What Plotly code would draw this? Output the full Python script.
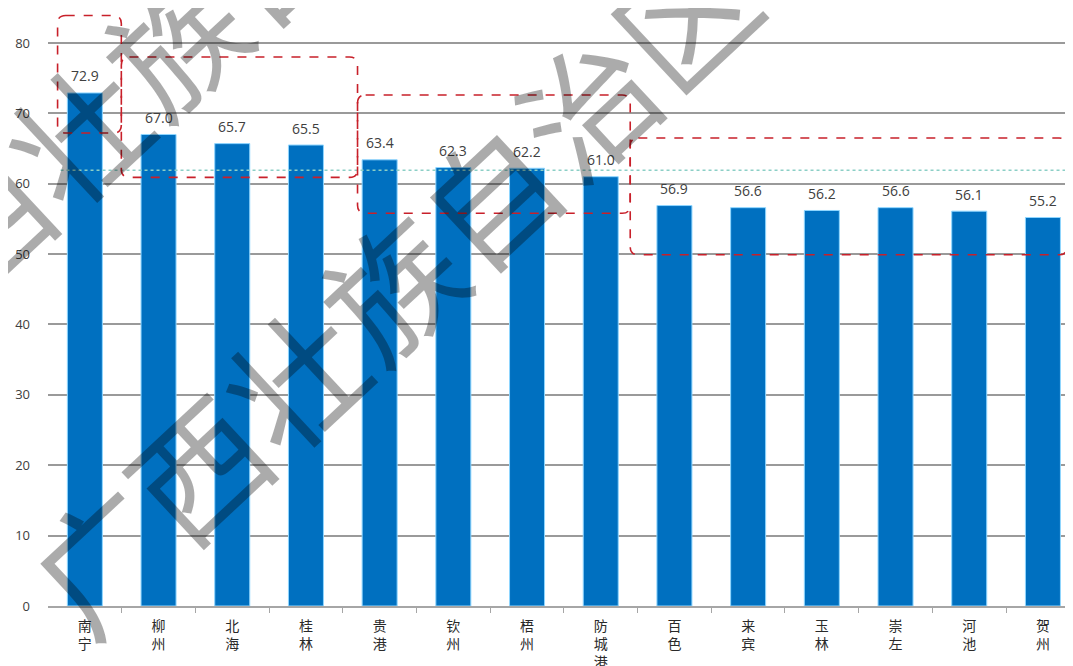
import plotly.graph_objects as go

# ---- data ----
cities = ["南宁", "柳州", "北海", "桂林", "贵港", "钦州", "梧州", "防城港",
          "百色", "来宾", "玉林", "崇左", "河池", "贺州"]
values = [72.9, 67.0, 65.7, 65.5, 63.4, 62.3, 62.2, 61.0,
          56.9, 56.6, 56.2, 56.6, 56.1, 55.2]
y_ticks = [0, 10, 20, 30, 40, 50, 60, 70, 80]
avg_line = 61.9
watermark = "广西壮族自治区"

n = len(cities)
xs = list(range(n))
tick_text = ["<br>".join(list(c)) for c in cities]

fig = go.Figure()
fig.add_trace(go.Bar(
    x=xs, y=values,
    marker=dict(color="#0070C0", line=dict(color="#8fd6ff", width=1)),
    hoverinfo="skip",
))

# data labels
for x, v in zip(xs, values):
    fig.add_annotation(x=x, y=v, text=f"{v:.1f}", showarrow=False,
                       yshift=17, yanchor="middle",
                       font=dict(family="Open Sans", size=14, color="#404040"))

# average dotted line
fig.add_shape(type="line", xref="x", yref="y", x0=-0.33, x1=13.3,
              y0=avg_line, y1=avg_line,
              line=dict(color="#8ccfc6", width=1.5, dash="dot"))


def rounded(x0, x1, y0, y1, rx=0.11, ry=1.15):
    return (f"M {x0+rx},{y1} L {x1-rx},{y1} Q {x1},{y1} {x1},{y1-ry} "
            f"L {x1},{y0+ry} Q {x1},{y0} {x1-rx},{y0} "
            f"L {x0+rx},{y0} Q {x0},{y0} {x0},{y0+ry} "
            f"L {x0},{y1-ry} Q {x0},{y1} {x0+rx},{y1} Z")


boxes = [(-0.37, 0.495, 67.2, 83.9),
         (0.495, 3.70, 60.9, 78.0),
         (3.70, 7.40, 55.8, 72.6),
         (7.40, 13.33, 49.9, 66.5)]
for b in boxes:
    fig.add_shape(type="path", xref="x", yref="y", path=rounded(*b),
                  line=dict(color="#c8202a", width=1.6, dash="dash"))

# watermark
for cx, cy in [(0.3330, 0.5390), (0.1213, 0.9479)]:
    fig.add_annotation(xref="paper", yref="paper", x=cx, y=cy, text=watermark,
                       showarrow=False, textangle=-43,
                       xanchor="center", yanchor="middle",
                       font=dict(family="Noto Sans CJK SC", size=133,
                                 color="rgba(0,0,0,0.33)"))

fig.update_layout(
    width=1065, height=658,
    margin=dict(l=40, r=0, t=0, b=60, autoexpand=False),
    paper_bgcolor="white", plot_bgcolor="white",
    showlegend=False, bargap=0.525,
    xaxis=dict(range=[-0.5, 13.408], tickmode="array", tickvals=xs,
               ticktext=tick_text, ticks="", showgrid=False,
               showline=True, linecolor="#a6a6a6", linewidth=1.5,
               ticklabelstandoff=6, automargin=False,
               tickfont=dict(family="Noto Sans CJK SC", size=14, color="#2a2a2a"),
               minor=dict(tickmode="array", tickvals=[i + 0.5 for i in xs],
                          ticks="outside", ticklen=5, tickcolor="#a6a6a6",
                          showgrid=False),
               zeroline=False),
    yaxis=dict(range=[0, 84.97], tickmode="array", tickvals=y_ticks,
               showgrid=True, gridcolor="#9a9a9a", gridwidth=1.5,
               zeroline=False, showline=False, ticks="",
               ticklabelstandoff=17, automargin=False,
               tickfont=dict(family="Open Sans", size=13, color="#404040")),
)

fig.write_html("out.html")
